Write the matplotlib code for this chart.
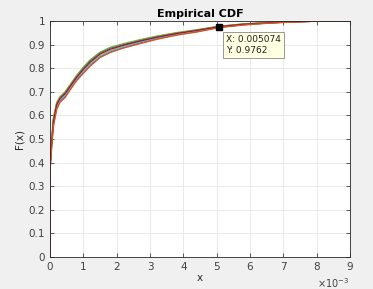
#!/usr/bin/env python3

import matplotlib
matplotlib.use("Agg")
import matplotlib.pyplot as plt
from matplotlib.ticker import FuncFormatter, FormatStrFormatter

# x values (units of 1e-3), shared by all runs
x_vals = [0, 0, 0.05, 0.1, 0.2, 0.3, 0.45, 0.6, 0.8, 1.0, 1.2, 1.5, 1.8,
          2.2, 2.7, 3.2, 3.8, 4.4, 5.07, 5.8, 6.5, 7.2, 8.0, 9.0]

# empirical CDF of each run
run_1 = [0, 0.39, 0.49, 0.58, 0.65, 0.675, 0.695, 0.725, 0.765, 0.80, 0.83, 0.865, 0.885,
         0.90, 0.918, 0.934, 0.949, 0.961, 0.977, 0.987, 0.993, 0.997, 0.999, 1.0]
run_2 = [0, 0.38, 0.48, 0.57, 0.64, 0.67, 0.69, 0.72, 0.76, 0.79, 0.82, 0.855, 0.875,
         0.893, 0.912, 0.929, 0.945, 0.958, 0.975, 0.985, 0.992, 0.996, 0.999, 1.0]
run_3 = [0, 0.37, 0.47, 0.56, 0.63, 0.66, 0.68, 0.712, 0.752, 0.782, 0.812, 0.848, 0.869,
         0.888, 0.907, 0.925, 0.942, 0.955, 0.973, 0.984, 0.991, 0.996, 0.999, 1.0]
run_4 = [0, 0.40, 0.50, 0.59, 0.655, 0.68, 0.70, 0.73, 0.77, 0.805, 0.835, 0.868, 0.888,
         0.904, 0.921, 0.936, 0.951, 0.963, 0.978, 0.988, 0.994, 0.997, 0.999, 1.0]
run_5 = [0, 0.375, 0.475, 0.565, 0.635, 0.665, 0.685, 0.716, 0.756, 0.786, 0.816, 0.851, 0.872,
         0.89, 0.91, 0.927, 0.943, 0.957, 0.974, 0.984, 0.991, 0.996, 0.999, 1.0]
run_6 = [0, 0.385, 0.485, 0.575, 0.645, 0.672, 0.692, 0.722, 0.762, 0.795, 0.825, 0.86, 0.88,
         0.897, 0.915, 0.931, 0.947, 0.96, 0.976, 0.986, 0.992, 0.996, 0.999, 1.0]
run_7 = [0, 0.36, 0.46, 0.55, 0.625, 0.655, 0.675, 0.707, 0.747, 0.778, 0.808, 0.845, 0.866,
         0.885, 0.904, 0.922, 0.94, 0.953, 0.972, 0.983, 0.99, 0.995, 0.999, 1.0]
runs = [run_1, run_2, run_3, run_4, run_5, run_6, run_7]

tip_x = 0.005074
tip_y = 0.9762

colors = ["#0072BD", "#EDB120", "#7E2F8E", "#77AC30", "#4DBEEE", "#A2142F", "#D95319"]

fig = plt.figure(figsize=(3.73, 2.89), dpi=100, facecolor="#f0f0f0")
ax = fig.add_axes([50 / 373, 32 / 289, 300 / 373, 236 / 289])
ax.set_facecolor("white")

xs = [v * 1e-3 for v in x_vals]
for run, c in zip(runs, colors):
    ax.plot(xs, run, color=c, lw=0.9)

# data tip
ax.plot([tip_x], [tip_y], marker="s", color="black", ms=4, zorder=5)
ax.annotate(f"X: {tip_x}\nY: {tip_y}", xy=(tip_x, tip_y), xytext=(5, -6),
            textcoords="offset points", ha="left", va="top", fontsize=6.5,
            color="#222222", linespacing=1.3,
            bbox=dict(boxstyle="square,pad=0.35", fc="#ffffe1", ec="#888888", lw=0.6))

ax.set_xlim(0, 0.009)
ax.set_ylim(0, 1)
ax.set_xticks([i * 1e-3 for i in range(10)])
ax.set_yticks([i / 10 for i in range(11)])
ax.xaxis.set_major_formatter(FuncFormatter(lambda v, p: f"{round(v * 1e3, 6):g}"))
ax.yaxis.set_major_formatter(FormatStrFormatter("%g"))
# MATLAB-style exponent label under the right end of the x axis
fig.text(349 / 373, 1 - 283 / 289, r"$\times10^{-3}$", ha="right", va="center",
         fontsize=7, color="#404040")

ax.grid(True, color="#e6e6e6", lw=0.6)
ax.set_axisbelow(True)
ax.tick_params(direction="in", top=True, right=True, labelsize=7.5,
               colors="#404040", length=3, width=0.6)
for s in ax.spines.values():
    s.set_color("#262626")
    s.set_linewidth(0.6)

ax.set_title("Empirical CDF", fontsize=8, fontweight="bold", pad=3)
ax.set_xlabel("x", fontsize=7.5, color="#262626", labelpad=1)
ax.set_ylabel("F(x)", fontsize=7.5, color="#262626", labelpad=3)

fig.savefig("out.png", dpi=100, facecolor=fig.get_facecolor())
